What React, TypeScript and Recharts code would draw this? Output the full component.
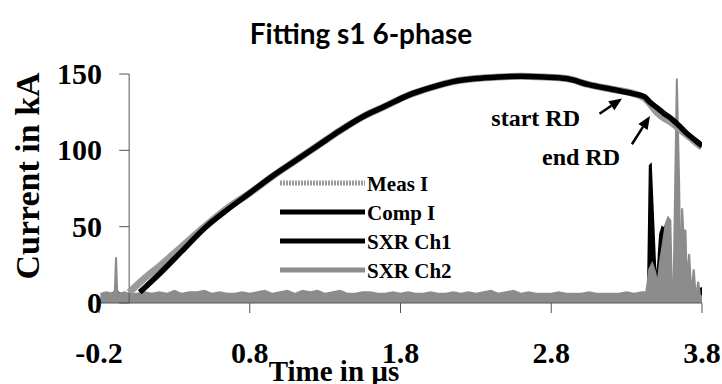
import React from "react";
import { ComposedChart, Line, Area, XAxis, YAxis, ReferenceLine } from "recharts";

const xTicks = [-0.2, 0.8, 1.8, 2.8, 3.8];
const yTicks = [0, 50, 100, 150];

// measured current (kA) vs time (us)
const measTime = [0.0, 0.1, 0.2, 0.35, 0.5, 0.65, 0.8, 0.95, 1.1, 1.25, 1.4, 1.55, 1.7, 1.85, 2.0, 2.15, 2.3, 2.45, 2.6, 2.75, 2.9, 3.05, 3.2, 3.35, 3.42, 3.45, 3.5, 3.55, 3.6, 3.65, 3.7, 3.75, 3.8];
const measCurrent = [7, 16, 24, 37, 50, 62, 72, 83, 93, 103, 113, 122, 129, 136, 141, 145, 147, 148, 148.5, 148, 147, 143, 140, 137, 134, 131, 125, 121, 118, 114, 110, 106, 102];

// computed current
const compTime = [0.07, 0.2, 0.35, 0.5, 0.65, 0.8, 0.95, 1.1, 1.25, 1.4, 1.55, 1.7, 1.85, 2.0, 2.15, 2.3, 2.45, 2.6, 2.75, 2.9, 3.05, 3.2, 3.35, 3.42, 3.45, 3.5, 3.55, 3.6, 3.65, 3.7, 3.75, 3.8];
const compCurrent = [7, 19, 34, 49, 61, 72, 83, 93, 103, 113, 122, 129, 136, 141, 145, 147, 148, 148.5, 148, 147, 143, 140, 137, 135, 132, 128, 124, 120.5, 116, 111, 107, 103];

// soft x-ray channel 1
const ch1Time = [-0.19, -0.087, 0.0, 0.5, 1.0, 1.5, 2.0, 2.5, 3.0, 3.43, 3.44, 3.452, 3.462, 3.49, 3.5, 3.52, 3.535, 3.55, 3.565, 3.58, 3.6, 3.63, 3.645, 3.66, 3.72, 3.8];
const ch1Signal = [2, 8, 3, 3, 3, 3, 3, 3, 3, 3, 8, 90, 91, 26, 14, 45, 50, 49, 53, 40, 3, 30, 10, 3, 6, 10];

// soft x-ray channel 2
const ch2Time = [
  -0.19, -0.15, -0.11, -0.095, -0.087, -0.08, -0.07, -0.03, 0.0, 0.05, 0.1, 0.15, 0.2, 0.25, 0.3, 0.35, 0.4, 0.45,
  0.5, 0.55, 0.6, 0.65, 0.7, 0.75, 0.8, 0.85, 0.9, 0.95, 1.0, 1.05, 1.1, 1.15, 1.2, 1.25, 1.3, 1.35, 1.4, 1.45,
  1.5, 1.55, 1.6, 1.65, 1.7, 1.75, 1.8, 1.85, 1.9, 1.95, 2.0, 2.05, 2.1, 2.15, 2.2, 2.25, 2.3, 2.35, 2.4, 2.45,
  2.5, 2.55, 2.6, 2.65, 2.7, 2.75, 2.8, 2.85, 2.9, 2.95, 3.0, 3.05, 3.1, 3.15, 3.2, 3.25, 3.3, 3.35, 3.4, 3.43,
  3.44, 3.45, 3.47, 3.49, 3.505, 3.52, 3.545, 3.56, 3.575, 3.59, 3.6, 3.61, 3.633, 3.648, 3.66, 3.668, 3.68, 3.69,
  3.7, 3.715, 3.73, 3.745, 3.76, 3.775, 3.79, 3.8,
];
const ch2Signal = [
  6, 7, 6, 8, 30, 9, 6, 7, 6, 6, 7, 6, 7, 6, 8, 6, 7, 7,
  8, 6, 7, 6, 6, 7, 6, 7, 8, 6, 7, 8, 6, 8, 7, 8, 6, 7, 8, 6,
  6, 7, 7, 6, 6, 7, 6, 7, 6, 6, 7, 6, 6, 7, 6, 7, 6, 7, 8, 6,
  7, 8, 6, 7, 6, 6, 6, 7, 6, 6, 6, 7, 6, 6, 6, 6, 7, 6, 7, 7,
  14, 22, 26, 20, 12, 26, 42, 52, 56, 54, 10, 0, 147, 80, 2, 62, 40, 48,
  14, 32, 5, 22, 3, 14, 2, 5,
];

const legendNames = ["Meas I", "Comp I", "SXR Ch1", "SXR Ch2"];

// annotation arrows: [t, kA] tail -> head
const arrowTail = [[3.12, 124], [3.335, 104]];
const arrowHead = [[3.27, 134], [3.455, 122.5]];

const toPoints = (ts: number[], vs: number[]) => ts.map((t, i) => ({ t, v: vs[i] }));

const measData = toPoints(measTime, measCurrent);
const compData = toPoints(compTime, compCurrent);
const ch1Data = toPoints(ch1Time, ch1Signal);
const ch2Data = toPoints(ch2Time, ch2Signal);

const SERIF = "'Liberation Serif', 'Times New Roman', serif";
const GRAY = "#8c8c8c";

const XTick = (props: any) => {
  const { x, y, payload } = props;
  return (
    <text x={x} y={y + 50} textAnchor="middle" fontFamily={SERIF} fontWeight={700} fontSize={30} fill="#000">
      {payload.value}
    </text>
  );
};

const YTick = (props: any) => {
  const { x, y, payload } = props;
  return (
    <text x={x + 3} y={y + 10} textAnchor="end" fontFamily={SERIF} fontWeight={700} fontSize={30} fill="#000">
      {payload.value}
    </text>
  );
};

const Arrow = (props: any) => {
  const { x1, y1, x2, y2 } = props;
  const ang = Math.atan2(y2 - y1, x2 - x1);
  const len = 13;
  const half = 5.5;
  const bx = x2 - len * Math.cos(ang);
  const by = y2 - len * Math.sin(ang);
  const px = -Math.sin(ang) * half;
  const py = Math.cos(ang) * half;
  return (
    <g>
      <line x1={x1} y1={y1} x2={bx} y2={by} stroke="#000" strokeWidth={2.5} />
      <polygon points={`${x2},${y2} ${bx + px},${by + py} ${bx - px},${by - py}`} fill="#000" />
    </g>
  );
};

const legendStyles = [
  { stroke: "#9a9a9a", width: 5, dash: "2 1" },
  { stroke: "#000", width: 5, dash: undefined },
  { stroke: "#000", width: 5, dash: undefined },
  { stroke: GRAY, width: 5, dash: undefined },
];

export default function App() {
  return (
    <div style={{ position: "absolute", left: 0, top: 0, width: 722, height: 384, background: "#fff" }}>
      <ComposedChart width={722} height={384} margin={{ top: 74, right: 20, bottom: 0, left: 0 }}>
        <XAxis
          type="number"
          dataKey="t"
          domain={[-0.2, 3.8]}
          ticks={xTicks}
          allowDataOverflow
          height={81}
          tickSize={10}
          tickMargin={0}
          stroke="#555"
          tick={XTick}
        />
        <YAxis
          type="number"
          domain={[0, 150]}
          ticks={yTicks}
          width={99}
          tickSize={0}
          tickMargin={0}
          axisLine={false}
          tickLine={false}
          tick={YTick}
        />
        <ReferenceLine x={0} stroke="#555" strokeWidth={1} />
        {yTicks.map((v) => (
          <ReferenceLine key={v} segment={[{ x: -0.066, y: v }, { x: 0, y: v }]} stroke="#555" strokeWidth={1} />
        ))}
        <Line data={measData} dataKey="v" type="monotone" stroke="#9a9a9a" strokeWidth={7} dot={false} activeDot={false} isAnimationActive={false} />
        <Line data={compData} dataKey="v" type="monotone" stroke="#000" strokeWidth={5.5} dot={false} activeDot={false} isAnimationActive={false} />
        <Area data={ch1Data} dataKey="v" type="linear" baseValue={0} stroke="#000" strokeWidth={1.5} fill="#000" fillOpacity={1} dot={false} activeDot={false} isAnimationActive={false} />
        <Area data={ch2Data} dataKey="v" type="linear" baseValue={0} stroke={GRAY} strokeWidth={2} fill={GRAY} fillOpacity={1} dot={false} activeDot={false} isAnimationActive={false} />
        {arrowTail.map((p, i) => (
          <ReferenceLine
            key={`arrow${i}`}
            segment={[{ x: p[0], y: p[1] }, { x: arrowHead[i][0], y: arrowHead[i][1] }]}
            shape={Arrow}
          />
        ))}
      </ComposedChart>
      <svg width={722} height={384} style={{ position: "absolute", left: 0, top: 0, pointerEvents: "none" }}>
        <text x={361} y={44} textAnchor="middle" fontFamily="Lato, 'Open Sans', sans-serif" fontWeight={700} fontSize={28} fill="#000">
          Fitting s1 6-phase
        </text>
        <text x={39} y={176} transform="rotate(-90 39 176)" textAnchor="middle" fontFamily={SERIF} fontWeight={700} fontSize={34} fill="#000">
          Current in kA
        </text>
        <text x={334} y={381} textAnchor="middle" fontFamily={SERIF} fontWeight={700} fontSize={29} fill="#000">
          Time in µs
        </text>
        <text x={580} y={126} textAnchor="end" fontFamily={SERIF} fontWeight={700} fontSize={24} fill="#000">
          start RD
        </text>
        <text x={542} y={165} fontFamily={SERIF} fontWeight={700} fontSize={24} fill="#000">
          end RD
        </text>
        {legendNames.map((name, i) => {
          const ly = 183 + i * 29;
          const s = legendStyles[i];
          return (
            <g key={name}>
              <line x1={280} x2={365} y1={ly} y2={ly} stroke={s.stroke} strokeWidth={s.width} strokeDasharray={s.dash} />
              <text x={367} y={ly + 8} fontFamily={SERIF} fontWeight={700} fontSize={21} fill="#000">
                {name}
              </text>
            </g>
          );
        })}
      </svg>
    </div>
  );
}
